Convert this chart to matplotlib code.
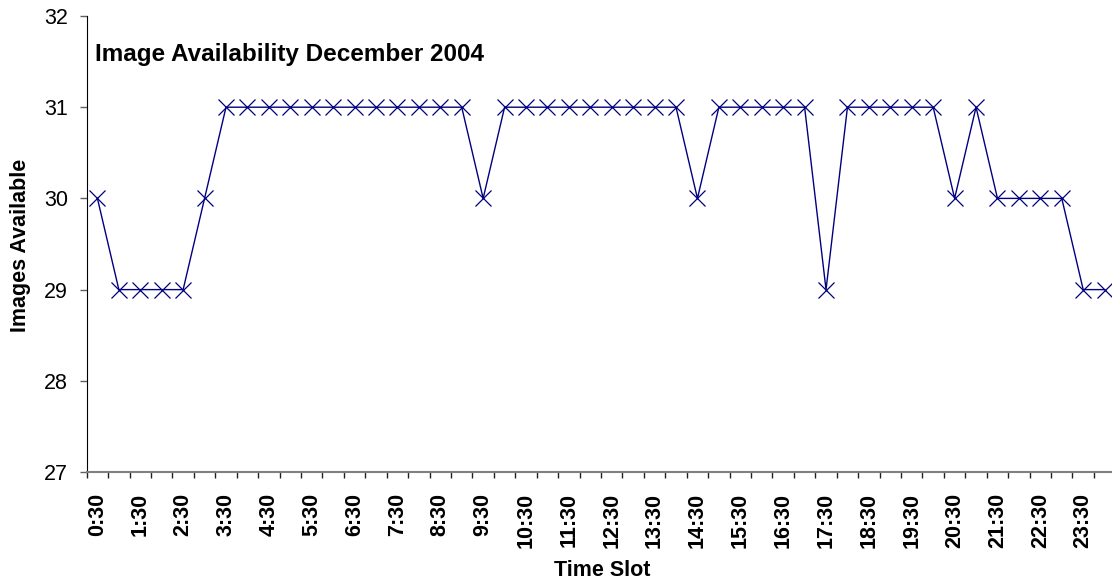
import matplotlib.pyplot as plt
import numpy as np

plt.rcParams["font.family"] = ["Liberation Sans", "DejaVu Sans"]

time_slots = [
    "0:30", "1:00", "1:30", "2:00", "2:30", "3:00", "3:30", "4:00",
    "4:30", "5:00", "5:30", "6:00", "6:30", "7:00", "7:30", "8:00",
    "8:30", "9:00", "9:30", "10:00", "10:30", "11:00", "11:30", "12:00",
    "12:30", "13:00", "13:30", "14:00", "14:30", "15:00", "15:30", "16:00",
    "16:30", "17:00", "17:30", "18:00", "18:30", "19:00", "19:30", "20:00",
    "20:30", "21:00", "21:30", "22:00", "22:30", "23:00", "23:30", "24:00",
]
images_available = [
    30, 29, 29, 29, 29, 30, 31, 31,
    31, 31, 31, 31, 31, 31, 31, 31,
    31, 31, 30, 31, 31, 31, 31, 31,
    31, 31, 31, 31, 30, 31, 31, 31,
    31, 31, 29, 31, 31, 31, 31, 31,
    30, 31, 30, 30, 30, 30, 29, 29,
]
title = "Image Availability December 2004"


def main():
    W, H = 1112, 583
    fig = plt.figure(figsize=(W / 100, H / 100), dpi=100)
    ax = fig.add_axes([86.7 / W, 1 - 472 / H, (48 * 21.43) / W, (472 - 16) / H])

    x = np.arange(len(time_slots))
    ax.plot(x, images_available, color="#000080", linewidth=1.0,
            marker="x", markersize=12, markeredgewidth=0.9)

    ax.set_xlim(-0.5, len(time_slots) - 0.5)
    ax.set_ylim(27, 32)
    ax.set_yticks(range(27, 33))
    ax.tick_params(axis="y", direction="out", length=5, width=1,
                   color="#606060", labelsize=15.5, pad=8.5)

    # labels on every other slot, tick marks between categories
    ax.set_xticks(x[::2])
    ax.set_xticklabels(time_slots[::2], rotation=90, fontweight="bold")
    ax.set_xticks(np.arange(len(time_slots)) - 0.5, minor=True)
    ax.tick_params(axis="x", which="major", length=0, labelsize=15.5, pad=15)
    ax.tick_params(axis="x", which="minor", direction="out", length=4.5,
                   width=1, color="#202020")

    ax.spines["top"].set_visible(False)
    ax.spines["right"].set_visible(False)
    ax.spines["left"].set_color("black")
    ax.spines["bottom"].set_color("#808080")
    ax.spines["bottom"].set_linewidth(1.5)

    fig.text(95 / W, 1 - 61 / H, title, fontsize=17.5, fontweight="bold",
             ha="left", va="baseline")
    fig.text(21 / W, 1 - 245 / H, "Images Available", fontsize=15.5,
             fontweight="bold", rotation=90, ha="center", va="center")
    fig.text(602 / W, 1 - 571 / H, "Time Slot", fontsize=15.5,
             fontweight="bold", ha="center", va="center")

    fig.savefig("out.png", dpi=100)


if __name__ == "__main__":
    main()
